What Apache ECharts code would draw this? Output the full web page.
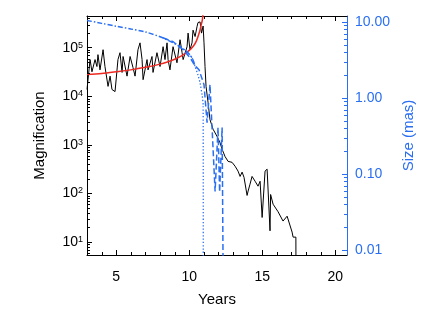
<!DOCTYPE html>
<html><head><meta charset="utf-8">
<script src="https://cdn.jsdelivr.net/npm/echarts@6/dist/echarts.min.js"></script>
<style>html,body{margin:0;padding:0;background:#fff}#c{width:436px;height:312px}</style>
</head><body><div id="c"></div>
<script>
// Magnification (black)
const magYears = [3.00,3.21,3.34,3.55,3.68,3.75,3.89,4.10,4.23,4.44,4.58,4.71,4.92,5.12,5.26,5.40,5.47,5.74,5.95,6.15,6.29,6.49,6.63,6.77,6.84,7.11,7.18,7.45,7.52,7.79,8.00,8.21,8.34,8.48,8.55,8.68,8.89,9.16,9.37,9.51,9.58,9.85,9.92,10.05,10.19,10.26,10.40,10.53,10.60,10.74,10.84,10.95,11.01,11.08,11.15,11.29,11.42,11.63,11.90,12.11,12.25,12.45,12.66,12.93,13.14,13.27,13.34,13.48,13.62,13.75,13.96,14.03,14.16,14.30,14.37,14.51,14.64,14.71,14.85,14.99,15.05,15.19,15.33,15.40,15.53,15.57,15.74,16.08,16.42,16.70,16.77,17.04,17.11,17.30,17.31];
const magValues = [1.38e4,5.7e4,3.2e4,5.7e4,4.1e4,7.2e4,3.5e4,9.1e4,4.1e4,1.6e4,2.6e4,1.38e4,1.25e4,5.7e4,7.9e4,3.1e4,6.6e4,2.6e4,6.6e4,3.9e4,2.6e4,9.1e4,1.26e5,5.7e4,2.2e4,5.7e4,3.5e4,6.6e4,3.1e4,7.9e4,4.1e4,1.05e5,5.7e4,1.26e5,5.7e4,3.5e4,1.05e5,4.9e4,1.46e5,7.9e4,5.7e4,1.05e5,2.0e5,9.1e4,1.26e5,2.3e5,1.7e5,2.7e5,3.3e5,3.4e5,2.0e5,2.8e5,1.26e5,4.1e4,1.6e4,7.4e3,3.3e3,2.1e3,1.5e3,1.1e3,810,575,457,437,363,363,288,224,275,214,91,112,155,224,245,178,195,141,178,32,35,288,316,316,17,95,60,42,27,34,31,16,12.6,12.6,1];
// Fitted model (red)
const fitYears = [3,4,5,6,7,8,8.5,9,9.5,10,10.3,10.5,10.7,10.8,10.9,10.98];
const fitValues = [2.8e4,2.95e4,3.2e4,3.5e4,3.95e4,4.6e4,5.1e4,5.8e4,6.9e4,8.8e4,1.1e5,1.4e5,2.1e5,2.8e5,3.8e5,7e5];
// Size curves (blue, right axis)
const sizeAYears = [3,4,5,6,7,8,8.5,9,9.4,9.85,10.2,10.4];
const sizeAValues = [10.5,9.6,8.8,8.1,7.4,6.4,5.8,5.2,4.7,4.05,3.35,2.6];
const sizeBYears = [9.4,9.85,10.2,10.4,10.6,10.74,10.88,10.95,10.96];
const sizeBValues = [4.7,4.05,3.35,2.6,2.0,1.58,1.1,0.82,0.005];
const sizeCYears = [8.2,8.9,9.6,10.05,10.4,10.67,11.01,11.22,11.42,11.77,11.97,12.08,12.25,12.32];
const sizeCValues = [6.2,5.5,4.3,3.4,2.65,2.35,1.5,0.475,1.5,0.059,0.41,0.058,0.41,0.005];
// Ticks
const xTickLabels = [5,10,15,20];
const xMinorTicks = [4,6,7,8,9,11,12,13,14,16,17,18,19];
const magMinorTicks = [6,7,8,9,20,30,40,50,60,70,80,90,200,300,400,500,600,700,800,900,2000,3000,4000,5000,6000,7000,8000,9000,2e4,3e4,4e4,5e4,6e4,7e4,8e4,9e4,2e5,3e5,4e5];
const sizeMinorTicks = [0.02,0.03,0.04,0.05,0.06,0.07,0.08,0.09,0.2,0.3,0.4,0.5,0.6,0.7,0.8,0.9,2,3,4,5,6,7,8,9];

const BLUE = '#2a6ff2';
const FONT = '"Liberation Sans", Arial, Helvetica, sans-serif';
const zip = (a, b) => a.map((v, i) => [v, b[i]]);

function seg(x1, y1, x2, y2, color) {
  return {type: 'line', shape: {x1, y1, x2, y2}, style: {stroke: color, lineWidth: 1}, silent: true};
}
const r = v => Math.round(v) + 0.5;

const chart = echarts.init(document.getElementById('c'));
chart.setOption({
  animation: false,
  backgroundColor: '#fff',
  grid: {left: 87, right: 89, top: 16, bottom: 56, containLabel: false},
  xAxis: [{
    type: 'value', min: 3, max: 20.8, position: 'bottom',
    name: 'Years', nameLocation: 'middle', nameGap: 37,
    nameTextStyle: {fontSize: 15, color: '#000', fontFamily: FONT},
    axisLine: {lineStyle: {color: '#000', width: 1}},
    axisTick: {inside: true, length: 5, customValues: xTickLabels, lineStyle: {color: '#000'}},
    axisLabel: {customValues: xTickLabels, margin: 15, fontSize: 14, color: '#000', fontFamily: FONT},
    splitLine: {show: false}
  }, {
    type: 'value', min: 3, max: 20.8, position: 'top',
    axisLine: {lineStyle: {color: '#000', width: 1}},
    axisTick: {inside: true, length: 5, customValues: xTickLabels, lineStyle: {color: '#000'}},
    axisLabel: {show: false},
    splitLine: {show: false}
  }],
  yAxis: [{
    type: 'log', min: 5.4, max: 4.5e5, position: 'left',
    name: 'Magnification', nameLocation: 'middle', nameGap: 40, nameRotate: 90,
    nameTextStyle: {fontSize: 15, color: '#000', fontFamily: FONT},
    axisLine: {show: true, lineStyle: {color: '#000', width: 1}},
    axisTick: {inside: true, length: 5, lineStyle: {color: '#000'}},
    axisLabel: {
      showMinLabel: false, showMaxLabel: false, margin: 4, color: '#000',
      formatter: v => '{b|10}{s|' + Math.round(Math.log10(v)) + '}',
      rich: {
        b: {fontSize: 14, fontFamily: FONT, color: '#000', padding: [6, 0, 0, 0], lineHeight: 14, verticalAlign: 'bottom'},
        s: {fontSize: 9, fontFamily: FONT, color: '#000', lineHeight: 9, verticalAlign: 'top'}
      }
    },
    splitLine: {show: false}
  }, {
    type: 'log', min: 0.0086, max: 12, position: 'right',
    name: 'Size (mas)', nameLocation: 'middle', nameGap: 47, nameRotate: 90,
    nameTextStyle: {fontSize: 15, color: BLUE, fontFamily: FONT},
    axisLine: {show: true, lineStyle: {color: BLUE, width: 1}},
    axisTick: {inside: true, length: 5, lineStyle: {color: BLUE}},
    axisLabel: {
      showMinLabel: false, showMaxLabel: false, margin: 8, color: BLUE,
      fontSize: 14, fontFamily: FONT,
      formatter: v => v.toFixed(2)
    },
    splitLine: {show: false}
  }],
  series: [
    {
      type: 'line', xAxisIndex: 0, yAxisIndex: 0, data: zip(magYears, magValues),
      symbol: 'none', lineStyle: {color: '#000', width: 1}, z: 2
    },
    {
      type: 'line', xAxisIndex: 0, yAxisIndex: 0, data: zip(fitYears, fitValues),
      symbol: 'none', smooth: 0.3, lineStyle: {color: '#ec2a22', width: 1.5}, z: 3
    },
    {
      type: 'line', xAxisIndex: 0, yAxisIndex: 1, data: zip(sizeAYears, sizeAValues),
      symbol: 'none', smooth: 0.3, lineStyle: {color: BLUE, width: 1.5, type: [5, 2, 1.5, 2]}, z: 4
    },
    {
      type: 'line', xAxisIndex: 0, yAxisIndex: 1, data: zip(sizeBYears, sizeBValues),
      symbol: 'none', smooth: 0.2, lineStyle: {color: BLUE, width: 1.3, type: [1.3, 2]}, z: 4
    },
    {
      type: 'line', xAxisIndex: 0, yAxisIndex: 1, data: zip(sizeCYears, sizeCValues),
      symbol: 'none', lineStyle: {color: BLUE, width: 1.5, type: [6, 3]}, z: 4
    },
    {
      type: 'custom', xAxisIndex: 0, yAxisIndex: 0, clip: false, silent: true, z: 5,
      data: xMinorTicks.map(x => [x, 100]),
      renderItem: (params, api) => {
        const cs = params.coordSys;
        const p = api.coord([api.value(0), api.value(1)]);
        const x = r(p[0]);
        return {type: 'group', children: [
          seg(x, cs.y + cs.height, x, cs.y + cs.height - 3, '#000'),
          seg(x, cs.y, x, cs.y + 3, '#000')
        ]};
      }
    },
    {
      type: 'custom', xAxisIndex: 0, yAxisIndex: 0, clip: false, silent: true, z: 5,
      data: magMinorTicks.map(v => [3, v]),
      renderItem: (params, api) => {
        const cs = params.coordSys;
        const p = api.coord([api.value(0), api.value(1)]);
        const y = r(p[1]);
        return seg(cs.x, y, cs.x + 3, y, '#000');
      }
    },
    {
      type: 'custom', xAxisIndex: 0, yAxisIndex: 1, clip: false, silent: true, z: 5,
      data: sizeMinorTicks.map(v => [3, v]),
      renderItem: (params, api) => {
        const cs = params.coordSys;
        const p = api.coord([api.value(0), api.value(1)]);
        const y = r(p[1]);
        return seg(cs.x + cs.width, y, cs.x + cs.width - 3, y, BLUE);
      }
    }
  ]
});
</script>
</body></html>
